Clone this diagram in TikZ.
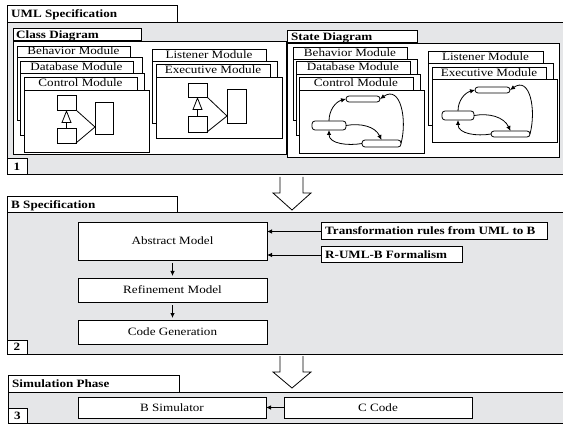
\documentclass[tikz,border=0pt]{standalone}
\usepackage{fontspec}
\setmainfont{Liberation Serif}[FakeStretch=1.17]
\usetikzlibrary{arrows.meta,calc}
\definecolor{pgray}{RGB}{229,230,232}
\newcommand\bx[7]{\node[#1,minimum width={(#5)-(#3)},minimum height={(#6)-(#4)}] (#2) at ({((#3)+(#5))/2},{-((#4)+(#6))/2}) {#7};}
\begin{document}
\begin{tikzpicture}[x=1pt,y=1pt,
  every node/.style={font=\fontsize{11.2}{13}\selectfont},
  base/.style={draw=black,inner sep=0pt,outer sep=0pt,text height=7pt,text depth=0pt},
  panel/.style={base,fill=pgray,line width=1pt},
  tab/.style={base,fill=white,line width=1pt},
  wbox/.style={base,fill=white,line width=0.8pt},
  tabtxt/.style={anchor=west,inner sep=0pt,text height=7pt,text depth=0pt,font=\fontsize{11.2}{13}\selectfont\bfseries},
  num/.style={base,fill=white,line width=1pt,font=\fontsize{11.2}{13}\selectfont\bfseries},
  st/.style={draw=black,fill=white,rounded corners=3pt,inner sep=0pt,outer sep=0pt,line width=0.8pt},
  arr/.style={line width=0.8pt,-{Latex[length=5pt,width=4.5pt]}},
  inh/.style={line width=0.8pt,-{Triangle[open,length=13pt,width=10pt]}},
  ln/.style={line width=0.8pt},
  block/.style={draw=black,fill=white,line width=0.8pt,line join=miter}
]
\useasboundingbox (0,0) rectangle (563,-425);

% ===== Panel 1 =====
\bx{panel}{p1}{7}{23}{570}{175}{}
\bx{tab}{t1}{7}{6}{177}{23}{}
\node[tabtxt] (t1t) at ($(t1.west)+(4,0)$) {UML Specification};
\bx{num}{n1}{7}{159}{27}{175}{1}

% Class diagram
\bx{tab}{ctab}{13}{29}{141}{41}{}
\node[tabtxt] (ctabt) at ($(ctab.west)+(3,0)$) {Class Diagram};
\bx{wbox}{cpan}{13}{41}{286}{154}{}
\bx{wbox}{cbb}{17}{57}{142}{120}{}
\bx{wbox}{cbh}{17}{46}{130}{57}{Behavior Module}
\bx{wbox}{cdb}{20}{73}{144}{135}{}
\bx{wbox}{cdh}{20}{61}{133}{73}{Database Module}
\bx{wbox}{ccb}{24}{90}{149}{152}{}
\bx{wbox}{cch}{24}{77}{137}{90}{Control Module}
\bx{wbox}{clb}{152}{61}{277}{123}{}
\bx{wbox}{clh}{152}{49}{266}{61}{Listener Module}
\bx{wbox}{ceb}{156}{77}{282}{138}{}
\bx{wbox}{ceh}{156}{64}{270}{77}{Executive Module}

% class mini diagram (control)
\bx{wbox}{ct1}{57}{95}{76}{110}{}
\bx{wbox}{cb1}{57}{128}{76}{143}{}
\bx{wbox}{cr1}{95}{102}{113}{134}{}
\coordinate (cc1) at (95,-127);
\draw[inh] (cb1.north) -- (ct1.south);
\draw[ln] (ct1.south east) -- (cc1) -- (cb1.south east);
% class mini diagram (executive)
\bx{wbox}{ct2}{188}{83}{207}{97}{}
\bx{wbox}{cb2}{188}{116}{207}{132}{}
\bx{wbox}{cr2}{227}{89}{246}{123}{}
\coordinate (cc2) at (227,-116);
\draw[inh] (cb2.north) -- (ct2.south);
\draw[ln] (ct2.south east) -- (cc2) -- (cb2.south east);

% State diagram
\bx{tab}{stab}{287}{31}{417}{43}{}
\node[tabtxt] (stabt) at ($(stab.west)+(4,0)$) {State Diagram};
\bx{wbox}{span}{287}{43}{559}{157}{}
\bx{wbox}{sbb}{293}{59}{417}{120}{}
\bx{wbox}{sbh}{293}{47}{407}{59}{Behavior Module}
\bx{wbox}{sdb}{296}{74}{420}{135}{}
\bx{wbox}{sdh}{296}{61}{410}{74}{Database Module}
\bx{wbox}{scb}{299}{90}{424}{153}{}
\bx{wbox}{sch}{299}{77}{413}{90}{Control Module}
\bx{wbox}{slb}{428}{63}{553}{125}{}
\bx{wbox}{slh}{428}{51}{543}{63}{Listener Module}
\bx{wbox}{seb}{432}{79}{557}{142}{}
\bx{wbox}{seh}{432}{67}{546}{79}{Executive Module}

% state mini diagram (control)
\bx{st}{T1}{346}{96}{380}{102}{}
\bx{st}{L1}{312}{121}{346}{130}{}
\bx{st}{R1}{362}{140}{401}{147}{}
\draw[arr] (L1.north) to[out=90,in=195] (T1.west);
\draw[arr] (R1.east) to[out=75,in=35,looseness=1.3] (T1.east);
\draw[arr] (L1.east) to[out=10,in=115] (R1.north);
\draw[arr] (R1.west) to[out=190,in=-90] (L1.south);
% state mini diagram (executive)
\bx{st}{T2}{475}{87}{510}{93}{}
\bx{st}{L2}{442}{111}{474}{120}{}
\bx{st}{R2}{491}{131}{530}{137}{}
\draw[arr] (L2.north) to[out=90,in=195] (T2.west);
\draw[arr] (R2.east) to[out=75,in=35,looseness=1.3] (T2.east);
\draw[arr] (L2.east) to[out=10,in=115] (R2.north);
\draw[arr] (R2.west) to[out=190,in=-90] (L2.south);

% block arrow 1
\draw[block] (280,-177) -- (280,-193) -- (273,-193) -- (292,-210) -- (311,-193) -- (303,-193) -- (303,-177);

% ===== Panel 2 =====
\bx{panel}{p2}{7}{213}{570}{354}{}
\bx{tab}{t2}{7}{197}{177}{213}{}
\node[tabtxt] (t2t) at ($(t2.west)+(4,0)$) {B Specification};
\bx{num}{n2}{7}{340}{27}{354}{2}
\bx{wbox}{abs}{78}{222}{267}{260}{Abstract Model}
\bx{wbox}{ref}{78}{278}{267}{302}{Refinement Model}
\bx{wbox}{gen}{78}{320}{267}{344}{Code Generation}
\bx{tab}{trans}{321}{223}{547}{240}{}
\node[tabtxt] (transt) at ($(trans.west)+(4,0)$) {Transformation rules from UML to B};
\bx{tab}{rumlb}{321}{247}{462}{263}{}
\node[tabtxt] (rumlbt) at ($(rumlb.west)+(4,0)$) {R-UML-B Formalism};
\draw[arr] (trans.west) -- (trans.west -| abs.east);
\draw[arr] (rumlb.west) -- (rumlb.west -| abs.east);
\draw[arr,shorten <=3pt,shorten >=2pt] (abs) -- (ref);
\draw[arr,shorten <=3pt,shorten >=2pt] (ref) -- (gen);

% block arrow 2
\draw[block] (280,-356) -- (280,-372) -- (273,-372) -- (292,-388) -- (311,-372) -- (303,-372) -- (303,-356);

% ===== Panel 3 =====
\bx{panel}{p3}{8}{392}{570}{423}{}
\bx{tab}{t3}{8}{375}{179}{392}{}
\node[tabtxt] (t3t) at ($(t3.west)+(4,0)$) {Simulation Phase};
\bx{num}{n3}{8}{408}{27}{423}{3}
\bx{wbox}{bsim}{78}{397}{266}{418}{B Simulator}
\bx{wbox}{ccode}{284}{397}{472}{418}{C Code}
\draw[arr] (ccode) -- (bsim);
\end{tikzpicture}
\end{document}
